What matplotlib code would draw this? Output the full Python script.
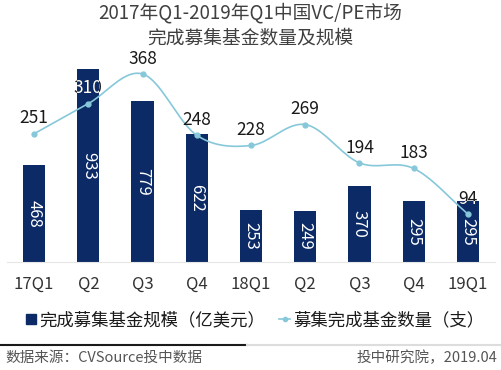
import numpy as np
import matplotlib
matplotlib.use('Agg')
import matplotlib.pyplot as plt
from matplotlib.lines import Line2D
from matplotlib.transforms import TransformedBbox

plt.rcParams['font.family'] = ['Noto Sans CJK SC', 'DejaVu Sans']

# 数据
quarters = ['17Q1', 'Q2', 'Q3', 'Q4', '18Q1', 'Q2', 'Q3', 'Q4', '19Q1']
fund_size = [468, 933, 779, 622, 253, 249, 370, 295, 295]   # 亿美元
fund_count = [251, 310, 368, 248, 228, 269, 194, 183, 94]   # 支

bar_color = '#0b2a66'
line_color = '#86c8da'


def smooth(x, y, n=20):
    # Catmull-Rom 曲线，只用于把折线画圆滑
    x = np.asarray(x, float)
    y = np.asarray(y, float)
    px = np.concatenate([[2 * x[0] - x[1]], x, [2 * x[-1] - x[-2]]])
    py = np.concatenate([[2 * y[0] - y[1]], y, [2 * y[-1] - y[-2]]])
    xs, ys = [], []
    t = np.linspace(0, 1, n, endpoint=False)
    for i in range(1, len(px) - 2):
        for p, out in ((px, xs), (py, ys)):
            p0, p1, p2, p3 = p[i - 1], p[i], p[i + 1], p[i + 2]
            out.extend(0.5 * (2 * p1 + (-p0 + p2) * t
                              + (2 * p0 - 5 * p1 + 4 * p2 - p3) * t ** 2
                              + (-p0 + 3 * p1 - 3 * p2 + p3) * t ** 3))
    xs.append(x[-1])
    ys.append(y[-1])
    return xs, ys


fig = plt.figure(figsize=(5.01, 3.70), dpi=100)
ax = fig.add_axes([7 / 501, 1 - 262 / 370, 488 / 501, 222 / 370])
x = np.arange(len(quarters))

bars = ax.bar(x, fund_size, width=0.41, color=bar_color, zorder=2)
ax.set_ylim(0, 222 / 0.2065)
ax.set_xlim(-0.5, len(quarters) - 0.5)
for b, v in zip(bars, fund_size):
    ax.text(b.get_x() + b.get_width() / 2, v / 2, str(v), rotation=270,
            ha='center', va='center', color='white', fontsize=12, zorder=5)

ax2 = ax.twinx()
ax2.set_ylim(0, 222 / 0.511)
sx, sy = smooth(x, fund_count)
ax2.plot(sx, sy, color=line_color, lw=1.2, zorder=3)
ax2.plot(x, fund_count, 'o', color=line_color, ms=3.5, zorder=3)
for i, v in enumerate(fund_count):
    ax2.text(i, v + 30, str(v), ha='center', va='center',
             color='#1a1a1a', fontsize=12.5, zorder=4)
    # 压在柱子上的部分用白色
    t2 = ax2.text(i, v + 30, str(v), ha='center', va='center',
                  color='white', fontsize=12.5, zorder=4, clip_on=True)
    t2.set_clip_box(TransformedBbox(bars[i].get_bbox(), ax.transData))

for a in (ax, ax2):
    for s in a.spines.values():
        s.set_visible(False)
    a.set_yticks([])
ax.spines['bottom'].set_visible(True)
ax.spines['bottom'].set_color('#e6e6e6')
ax.set_xticks(x)
ax.set_xticklabels(quarters, fontsize=12, color='#333333')
ax.tick_params(axis='x', length=0, pad=10)

fig.text(0.5, 1 - 13 / 370, '2017年Q1-2019年Q1中国VC/PE市场', ha='center', va='center',
         fontsize=13.5, color='#404040')
fig.text(0.5, 1 - 38 / 370, '完成募集基金数量及规模', ha='center', va='center',
         fontsize=13.5, color='#404040')

handles = [Line2D([], [], marker='s', ls='none', color=bar_color, ms=7),
           Line2D([], [], marker='o', color=line_color, lw=1.2, ms=3)]
fig.legend(handles, ['完成募集基金规模（亿美元）', '募集完成基金数量（支）'],
           loc='center', bbox_to_anchor=(255 / 501, 1 - 320 / 370), ncol=2, frameon=False,
           fontsize=12.5, handlelength=0.6, handletextpad=0.2, columnspacing=0.8,
           labelcolor='#1a1a1a')

fig.add_artist(Line2D([0, 247 / 501], [1 - 345 / 370] * 2, color='#1a1a1a', lw=1.5))
fig.add_artist(Line2D([247 / 501, 1], [1 - 345 / 370] * 2, color='#dddddd', lw=1.5))
fig.text(5 / 501, 1 - 358 / 370, '数据来源：CVSource投中数据', ha='left', va='center',
         fontsize=10.5, color='#555555')
fig.text(497 / 501, 1 - 358 / 370, '投中研究院，2019.04', ha='right', va='center',
         fontsize=10.5, color='#555555')

fig.savefig('out.png', dpi=100, facecolor='white')
